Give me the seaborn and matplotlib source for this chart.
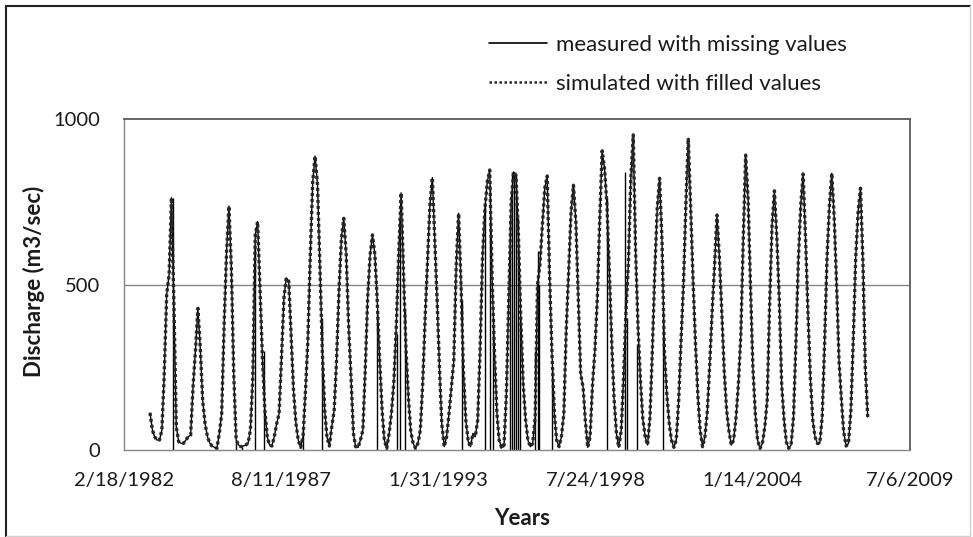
import matplotlib

matplotlib.use("Agg")

import matplotlib.pyplot as plt
import pandas as pd
import seaborn as sns
from matplotlib.lines import Line2D

# Monthly discharge (m3/sec), one row per year (Jan..Dec),
# series starts in January 1983 and ends in January 2008.
sim_1983_1987 = [
    112, 60, 40, 30, 30, 60, 230, 470, 530, 762, 440, 70,
    25, 20, 20, 30, 40, 45, 190, 300, 428, 310, 150, 80,
    40, 20, 12, 8, 5, 50, 110, 380, 600, 737, 550, 230,
    30, 15, 10, 12, 15, 20, 60, 220, 650, 690, 480, 280,
    120, 40, 15, 12, 40, 80, 110, 280, 460, 520, 510, 350,
]
sim_1988_1992 = [
    180, 80, 30, 8, 40, 180, 330, 590, 810, 888, 800, 560,
    300, 120, 40, 12, 70, 120, 270, 480, 640, 700, 590, 380,
    220, 50, 10, 8, 30, 60, 240, 460, 590, 650, 590, 450,
    270, 120, 30, 5, 50, 115, 210, 380, 600, 777, 530, 310,
    160, 55, 20, 5, 20, 60, 200, 400, 570, 740, 823, 640,
]
sim_1993_1997 = [
    450, 240, 80, 10, 40, 110, 190, 270, 560, 715, 500, 240,
    90, 25, 10, 50, 40, 90, 300, 580, 730, 810, 846, 520,
    290, 110, 30, 8, 10, 170, 450, 750, 840, 830, 650, 400,
    200, 90, 30, 10, 20, 100, 500, 560, 680, 790, 828, 530,
    290, 110, 30, 10, 40, 110, 360, 540, 720, 800, 690, 460,
]
sim_1998_2002 = [
    230, 190, 90, 8, 40, 200, 300, 460, 700, 904, 850, 740,
    540, 320, 160, 50, 8, 60, 220, 420, 570, 820, 952, 600,
    370, 210, 95, 40, 15, 100, 300, 540, 730, 821, 630, 300,
    170, 80, 30, 8, 30, 150, 330, 500, 745, 942, 730, 510,
    320, 160, 60, 10, 40, 120, 260, 420, 560, 710, 580, 420,
]
sim_2003_2008 = [
    240, 120, 60, 15, 30, 100, 200, 350, 640, 891, 760, 500,
    250, 110, 30, 5, 20, 70, 150, 440, 680, 783, 640, 460,
    200, 90, 25, 5, 15, 100, 320, 570, 740, 834, 640, 420,
    220, 90, 40, 20, 20, 100, 320, 580, 740, 836, 700, 500,
    270, 150, 55, 12, 20, 120, 330, 580, 720, 791, 570, 250,
    100,
]

# measured record drops to zero where values are missing
gap_dates = [
    "1983-10-30", "1986-01-07", "1986-03-24", "1986-09-12", "1987-01-04",
    "1988-05-14", "1989-01-11", "1990-12-12", "1991-08-23", "1991-10-01",
    "1991-12-03", "1993-11-23", "1994-09-16", "1994-11-19", "1994-12-27",
    "1995-07-31", "1995-08-26", "1995-09-20", "1995-10-15", "1995-11-10",
    "1995-12-05", "1996-06-13", "1996-07-15", "1996-08-09", "1997-01-15",
    "1998-12-16", "1999-08-02", "1999-08-28", "2000-01-02", "2000-11-28",
]
gap_tops = [
    762, 30, 10, 620, 300,
    60, 400, 420, 350, 700,
    420, 450, 750, 800, 400,
    700, 840, 840, 830, 700,
    400, 300, 600, 500, 250,
    760, 840, 400, 320, 420,
]

x_tick_labels = ["2/18/1982", "8/11/1987", "1/31/1993", "7/24/1998", "1/14/2004", "7/6/2009"]
y_ticks = [0, 500, 1000]

W, H = 973, 537
AXIS_GREY = "#868686"
DARK_GREY = "#595959"
TEXT = "#1a1a1a"


def main() -> None:
    values = sim_1983_1987 + sim_1988_1992 + sim_1993_1997 + sim_1998_2002 + sim_2003_2008
    dates = pd.date_range("1983-01-01", periods=len(values), freq="MS") + pd.Timedelta(days=14)
    flow = pd.DataFrame({"date": dates, "discharge": values})

    sns.set_style("white")
    plt.rcParams["font.family"] = ["Lato", "DejaVu Sans"]

    fig, ax = plt.subplots(figsize=(W / 100, H / 100), dpi=100)
    fig.subplots_adjust(left=124 / W, right=910 / W, bottom=1 - 450 / H, top=1 - 119 / H)

    ax.axhline(500, color=AXIS_GREY, linewidth=1.0, zorder=0)

    sns.lineplot(data=flow, x="date", y="discharge", color="black", linewidth=1.0, ax=ax)
    ax.vlines(pd.to_datetime(gap_dates), 0, gap_tops, color="black", linewidth=1.0)
    sns.lineplot(data=flow, x="date", y="discharge", color="#262626", linewidth=2.4,
                 linestyle=(0, (0.9, 0.9)), ax=ax)

    tick_dates = pd.to_datetime(x_tick_labels, format="%m/%d/%Y")
    ax.set_xlim(tick_dates[0], tick_dates[-1])
    ax.set_xticks(tick_dates)
    ax.set_xticklabels(x_tick_labels)
    ax.set_ylim(0, 1000)
    ax.set_yticks(y_ticks)

    ax.tick_params(axis="both", which="major", direction="out", length=5, width=1,
                   color=AXIS_GREY, labelsize=14.5, labelcolor=TEXT)
    ax.tick_params(axis="x", pad=11)
    ax.tick_params(axis="y", pad=12)

    for side in ["left", "bottom"]:
        ax.spines[side].set_color(AXIS_GREY)
        ax.spines[side].set_linewidth(1.0)
    for side in ["top", "right"]:
        ax.spines[side].set_color(DARK_GREY)
        ax.spines[side].set_linewidth(1.3)

    ax.set_xlabel("Years", fontsize=16, fontweight="bold", color=TEXT)
    ax.set_ylabel("Discharge (m3/sec)", fontsize=16, fontweight="bold", color=TEXT)
    ax.xaxis.set_label_coords((522 - 124) / 786, (450 - 508) / 331)
    ax.yaxis.set_label_coords((45 - 124) / 786, (450 - 281) / 331)

    # legend handles: thin solid line, fine dotted line
    handles = [
        Line2D([], [], color="black", linewidth=1.2),
        Line2D([], [], color="#262626", linewidth=1.8, linestyle=(0, (1, 1))),
    ]
    labels = ["measured with missing values", "simulated with filled values"]
    fig.legend(handles, labels, loc="upper left", bbox_to_anchor=(489 / W, 1 - 35 / H),
               frameon=False, fontsize=16, handlelength=2.6, handletextpad=0.4,
               labelspacing=0.85, borderaxespad=0, borderpad=0, labelcolor=TEXT)

    # chart-area border
    fig.add_artist(Line2D([6 / W, 6 / W], [0, 1 - 6 / H], transform=fig.transFigure,
                          color="#222222", linewidth=1.5))
    fig.add_artist(Line2D([6 / W, 970 / W], [1 - 6 / H, 1 - 6 / H], transform=fig.transFigure,
                          color="#222222", linewidth=1.5))
    fig.add_artist(Line2D([970 / W, 970 / W], [1 / H, 1 - 6 / H], transform=fig.transFigure,
                          color="#d0d0d0", linewidth=1.0))
    fig.add_artist(Line2D([6 / W, 970 / W], [1 / H, 1 / H], transform=fig.transFigure,
                          color="#d0d0d0", linewidth=1.0))

    fig.savefig("out.png", dpi=100)
    plt.close(fig)


if __name__ == "__main__":
    main()
